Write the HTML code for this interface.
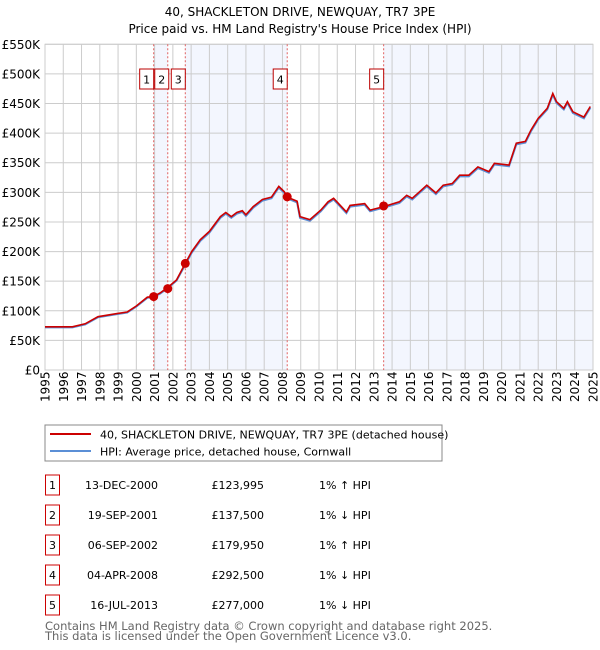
<!DOCTYPE html>
<html><head><meta charset="utf-8"><style>
body{margin:0;background:#fff;font-family:"DejaVu Sans","Liberation Sans",sans-serif;}
#wrap{position:relative;width:600px;height:650px;overflow:hidden;}
svg text{font-family:"DejaVu Sans","Liberation Sans",sans-serif;}
</style></head><body><div id="wrap">
<svg id="chart" width="600" height="650">
<text x="300" y="16" text-anchor="middle" font-size="12">40, SHACKLETON DRIVE, NEWQUAY, TR7 3PE</text>
<text x="300" y="33" text-anchor="middle" font-size="12">Price paid vs. HM Land Registry's House Price Index (HPI)</text>
<g id="shade"></g><g id="grid"></g><g id="vlines"></g><g id="lines"></g><g id="marks"></g><g id="axes"></g>
<rect x="45" y="425" width="397" height="36" fill="#fff" stroke="#888"/>
<line x1="50" y1="434" x2="91" y2="434" stroke="#cc0000" stroke-width="2"/>
<text x="100" y="438.5" font-size="11">40, SHACKLETON DRIVE, NEWQUAY, TR7 3PE (detached house)</text>
<line x1="50" y1="451" x2="91" y2="451" stroke="#5b8fd6" stroke-width="2"/>
<text x="100" y="455.5" font-size="11">HPI: Average price, detached house, Cornwall</text>
<g id="table"></g>
<text x="45" y="630" font-size="11.5" fill="#666">Contains HM Land Registry data © Crown copyright and database right 2025.</text>
<text x="45" y="640" font-size="11.5" fill="#666">This data is licensed under the Open Government Licence v3.0.</text>
</svg></div>
<script>
const years=[1995.0,1996.5,1997.2,1997.9,1998.9,1999.5,2000.0,2000.6,2000.93,2001.3,2001.7,2002.2,2002.68,2003.03,2003.5,2004.0,2004.6,2004.9,2005.2,2005.5,2005.8,2006.0,2006.4,2006.9,2007.4,2007.8,2008.1,2008.26,2008.8,2008.96,2009.5,2010.1,2010.5,2010.8,2011.5,2011.7,2012.5,2012.8,2013.54,2014.4,2014.8,2015.1,2015.5,2015.9,2016.4,2016.8,2017.3,2017.7,2018.2,2018.7,2019.3,2019.6,2020.4,2020.8,2021.3,2021.6,2022.0,2022.5,2022.8,2023.0,2023.4,2023.6,2023.9,2024.5,2024.85];
const hpi=[72,72,77,89,94,97,107,122,123,129,138,151,178,198,218,232,257,264,257,264,267,260,274,286,290,308,299,290,283,257,252,268,282,288,265,276,279,268,274,282,293,288,299,310,297,310,313,327,327,341,333,347,344,381,384,403,423,440,465,451,440,451,434,425,443];
const price=[73,73,78,90,95,98,108,123,124,130,139,152,180,200,220,234,259,266,259,266,269,262,276,288,292,310,301,292,285,259,254,270,284,290,267,278,281,270,276,284,295,290,301,312,299,312,315,329,329,343,335,349,346,383,386,405,425,442,467,453,442,453,436,427,445];
const saleYears=[2000.95,2001.72,2002.68,2008.26,2013.54];
const salePrices=[123.995,137.5,179.95,292.5,277.0];
const saleDates=["13-DEC-2000","19-SEP-2001","06-SEP-2002","04-APR-2008","16-JUL-2013"];
const salePriceLabels=["£123,995","£137,500","£179,950","£292,500","£277,000"];
const saleHpi=["1% ↑ HPI","1% ↓ HPI","1% ↑ HPI","1% ↓ HPI","1% ↓ HPI"];
const yTicks=[0,50,100,150,200,250,300,350,400,450,500,550];
const yTickLabels=["£0","£50K","£100K","£150K","£200K","£250K","£300K","£350K","£400K","£450K","£500K","£550K"];
const xTicks=[1995,1996,1997,1998,1999,2000,2001,2002,2003,2004,2005,2006,2007,2008,2009,2010,2011,2012,2013,2014,2015,2016,2017,2018,2019,2020,2021,2022,2023,2024,2025];
const NS="http://www.w3.org/2000/svg";
const L=45,R=593,T=44.3,B=370;
const xs=y=>L+(y-1995)/30*(R-L);
const ys=v=>B-v/550*(B-T);
function mk(parent,tag,attrs){const e=document.createElementNS(NS,tag);for(const k in attrs)e.setAttribute(k,attrs[k]);document.getElementById(parent).appendChild(e);return e;}
const shadeStarts=[saleYears[0],saleYears[2],saleYears[4]];
const shadeEnds=[saleYears[1],saleYears[3],2025];
shadeStarts.forEach((s,i)=>{const e=mk('shade','rect',{x:xs(s),y:T,width:xs(shadeEnds[i])-xs(s),height:B-T,fill:'#f3f6fe'});

});
mk('grid','rect',{x:L,y:T,width:R-L,height:B-T,fill:'none',stroke:'#ccc'});
yTicks.forEach((v,i)=>{const l=mk('grid','line',{x1:L,x2:R,y1:ys(v),y2:ys(v),stroke:'#ccc'});


const t=mk('axes','text',{x:L-5,y:ys(v)+4.5,'text-anchor':'end','font-size':12});t.textContent=yTickLabels[i];

});
xTicks.forEach(y=>{const l=mk('grid','line',{x1:xs(y),x2:xs(y),y1:T,y2:B,stroke:'#ccc'});


const t=mk('axes','text',{x:0,y:0,'font-size':12,transform:`translate(${xs(y)+4.5},${B+32}) rotate(-90)`});t.textContent=y;

});
saleYears.forEach((y,i)=>{const l=mk('vlines','line',{x1:xs(y),x2:xs(y),y1:T,y2:B,stroke:'#e06060','stroke-dasharray':'2,2'});


let bx=xs(y)-14;if(i===1)bx=xs(y)-13;
const r=mk('vlines','rect',{x:bx,y:69,width:14,height:20,fill:'#fff',stroke:'#b00'});


const t=mk('vlines','text',{x:bx+7,y:83.5,'text-anchor':'middle','font-size':11});t.textContent=i+1;

});
const path=(arr)=>arr.map((v,i)=>(i?'L':'M')+xs(years[i]).toFixed(1)+','+ys(v).toFixed(1)).join('');
const h=mk('lines','path',{d:path(hpi),fill:'none',stroke:'#5b8fd6','stroke-width':2});


const p=mk('lines','path',{d:path(price),fill:'none',stroke:'#cc0000','stroke-width':1.6});


saleYears.forEach((y,i)=>{const c=mk('marks','circle',{cx:xs(y),cy:ys(salePrices[i]),r:4.5,fill:'#cc0000'});

});
saleDates.forEach((d,i)=>{const cy=485+i*30;
const r=mk('table','rect',{x:45.5,y:cy-10,width:14,height:20,fill:'#fff',stroke:'#cc0000'});


const n=mk('table','text',{x:52.5,y:cy+4,'text-anchor':'middle','font-size':11});n.textContent=i+1;


const t1=mk('table','text',{x:158,y:cy+4,'text-anchor':'end','font-size':11});t1.textContent=d;


const t2=mk('table','text',{x:264,y:cy+4,'text-anchor':'end','font-size':11});t2.textContent=salePriceLabels[i];


const t3=mk('table','text',{x:319,y:cy+4,'font-size':11});t3.textContent=saleHpi[i];

});
</script></body></html>
